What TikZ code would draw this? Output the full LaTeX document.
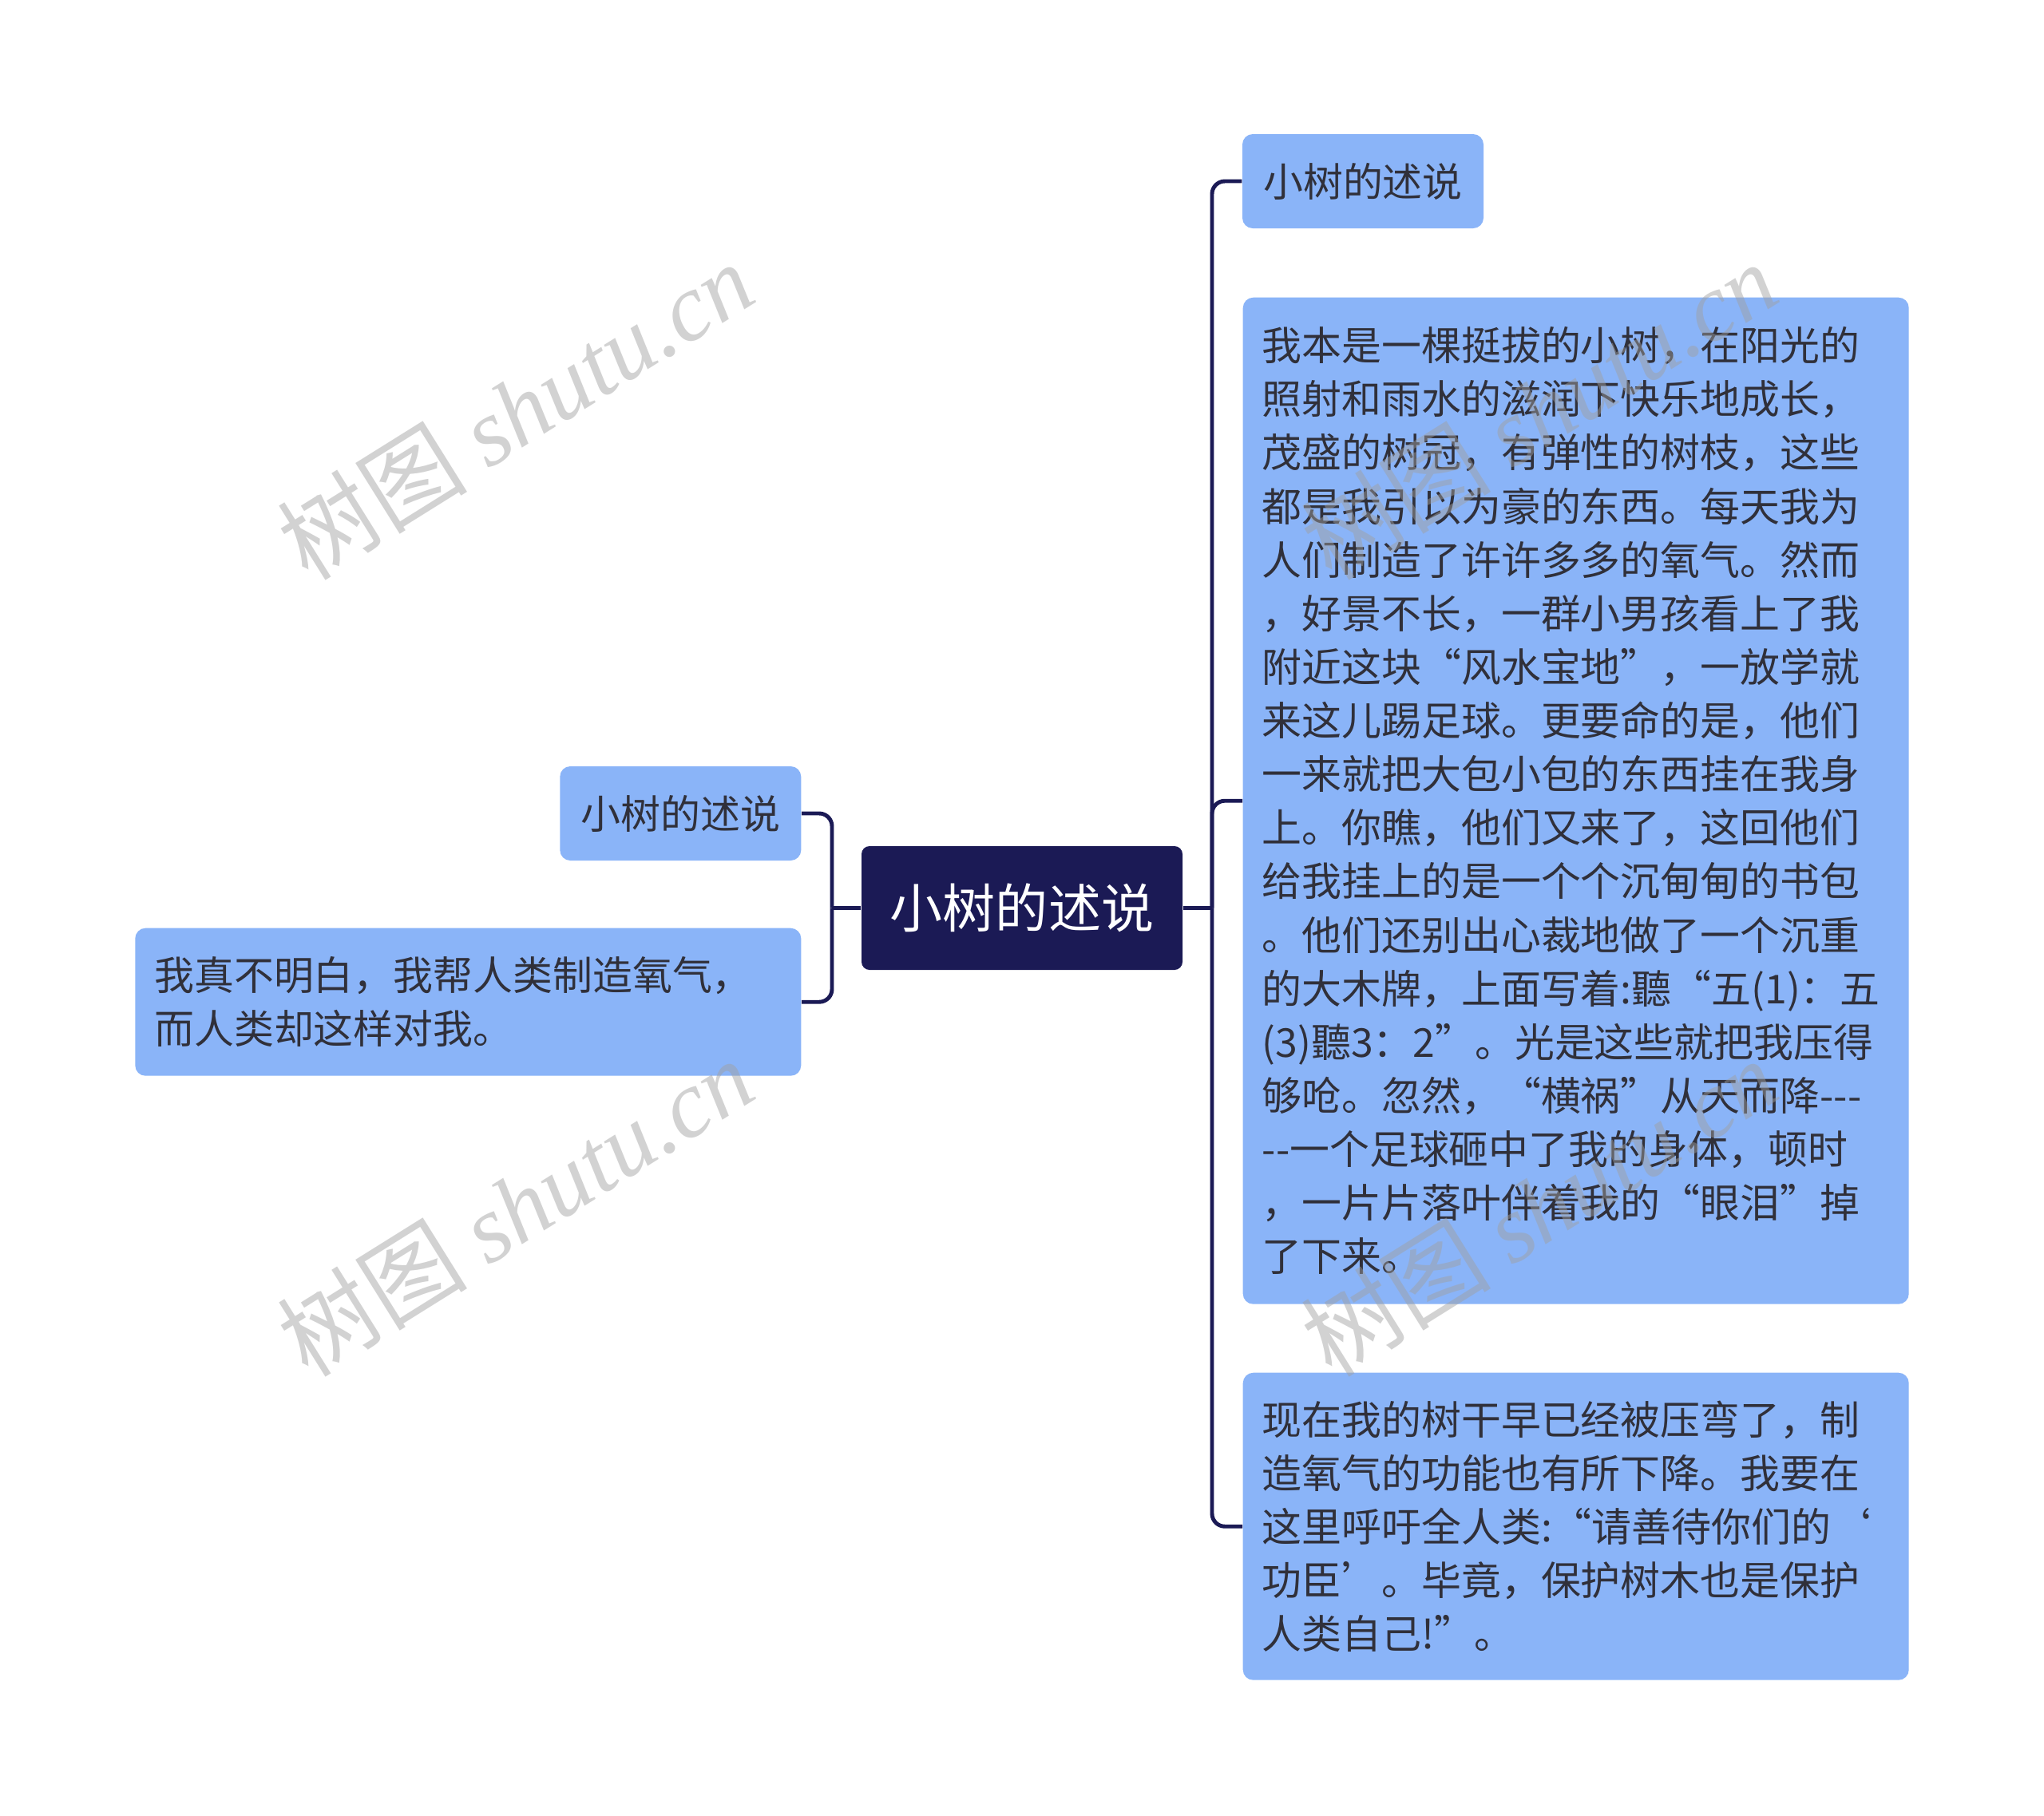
\documentclass[tikz,border=0pt]{standalone}
\usepackage{fontspec}
\setmainfont{Noto Sans CJK SC}
\newfontfamily\wmlatin{Liberation Serif}

\definecolor{navy}{RGB}{27,26,85}
\definecolor{leaf}{RGB}{138,180,248}
\definecolor{ink}{RGB}{48,48,58}
\definecolor{wmgray}{RGB}{160,160,160}

\begin{document}
\begin{tikzpicture}
        \tikzstyle{racine}=[rounded corners=0.1cm, fill=navy, text=white, minimum width=4.02cm, minimum height=1.55cm, font=\fontsize{18.8pt}{22pt}\selectfont];
        \tikzstyle{petit}=[rounded corners=0.13cm, fill=leaf, text=ink, minimum width=3.02cm, minimum height=1.18cm, font=\fontsize{14.2pt}{19.1pt}\selectfont];
        \tikzstyle{texte}=[petit, align=left, text width=7.86cm, inner xsep=0.24cm, inner ysep=0pt];
        \tikzstyle{lien}=[draw=navy, line width=1.4pt];

        \useasboundingbox (0,0) rectangle (25.6,-22.74);
        \fill[white] (0,0) rectangle (25.6,-22.74);

        \node[racine] (root) at (12.80,-11.375) {小树的述说};

        \node[petit] (r1) at (17.07,-2.27) {小树的述说};
        \node[texte, minimum height=12.61cm, anchor=north west] (r2) at (15.56,-3.72) {我本是一棵挺拔的小树，在阳光的\\照射和雨水的滋润下快乐地成长，\\茂盛的树冠，有弹性的树枝，这些\\都是我引以为豪的东西。每天我为\\人们制造了许许多多的氧气。然而\\，好景不长，一群小男孩看上了我\\附近这块“风水宝地”，一放学就\\来这儿踢足球。更要命的是，他们\\一来就把大包小包的东西挂在我身\\上。你瞧，他们又来了，这回他们\\给我挂上的是一个个沉甸甸的书包\\。他们还别出心裁地做了一个沉重\\的大木牌，上面写着:聽“五(1)：五\\(3)聽3：2”。光是这些就把我压得\\够呛。忽然，“横祸”从天而降-{}-{}-\\-{}-一个足球砸中了我的身体，顿时\\，一片片落叶伴着我的“眼泪”掉\\了下来。};
        \node[texte, minimum height=3.85cm, anchor=north west] (r3) at (15.56,-17.19) {现在我的树干早已经被压弯了，制\\造氧气的功能也有所下降。我要在\\这里呼吁全人类:“请善待你们的‘\\功臣’。毕竟，保护树木也是保护\\人类自己!”。};

        \node[petit, anchor=east] (l1) at (10.04,-10.19) {小树的述说};
        \node[texte, minimum height=1.85cm, anchor=north east] (l2) at (10.04,-11.62) {我真不明白，我帮人类制造氧气，\\而人类却这样对我。};

        \coordinate (rj) at (15.18,-11.375);
        \coordinate (lj) at (10.42,-11.375);
        \draw[lien] (root.east) -- (rj);
        \draw[lien] (root.west) -- (lj);
        \foreach \n in {r1, r2, r3}{
          \draw[lien, rounded corners=0.16cm] (rj) |- (\n.west);
        }
        \foreach \n in {l1, l2}{
          \draw[lien, rounded corners=0.16cm] (lj) |- (\n.east);
        }

        % filigrane
        \foreach \x in {6.45, 19.27}{
          \foreach \y in {-5.14, -15.12}{
            \node[text=wmgray, opacity=0.47, rotate=32, font=\fontsize{34pt}{34pt}\selectfont] (wm) at (\x,\y) {树图 {\wmlatin\itshape shutu.cn}};
          }
        }
    \end{tikzpicture}
\end{document}
